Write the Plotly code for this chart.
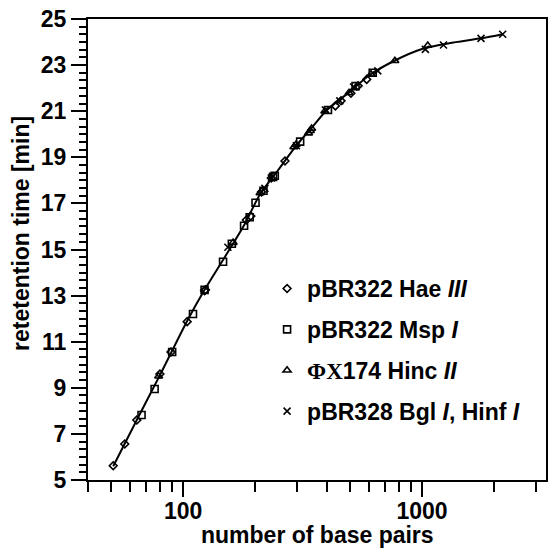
import plotly.graph_objects as go

# Fragment sizes (bp) and retention times (min) for each digest
hae_bp = [51, 57, 64, 80, 89, 104, 123, 124, 184, 192, 213, 234, 267, 434, 458, 504, 540, 587]
hae_t = [5.62, 6.56, 7.6, 9.6, 10.55, 11.87, 13.21, 13.25, 16.28, 16.45, 17.5, 18.1, 18.84,
         21.23, 21.45, 21.78, 22.1, 22.38]

msp_bp = [67, 76, 90, 110, 123, 147, 160, 180, 190, 201, 217, 238, 242, 309, 404, 527, 622]
msp_t = [7.82, 8.95, 10.55, 12.2, 13.25, 14.47, 15.25, 16.03, 16.4, 17.03, 17.55, 18.15, 18.2,
         19.68, 21.05, 22.09, 22.67]

phix_bp = [79, 162, 210, 291, 297, 335, 341, 345, 392, 495, 612, 770, 1057]
phix_t = [9.5, 15.3, 17.45, 19.45, 19.55, 20.05, 20.15, 20.25, 21.0, 21.8, 22.6, 23.19, 23.85]

bgl_bp = [154, 220, 234, 298, 394, 453, 517, 653, 1033, 1230, 1766, 2176]
bgl_t = [15.1, 17.65, 18.1, 19.5, 21.05, 21.45, 22.05, 22.75, 23.68, 23.87, 24.16, 24.34]

# Calibration curve through the data
curve_bp = [51, 64, 80, 104, 123, 150, 180, 210, 250, 300, 350, 400, 500, 600, 770, 1000,
            1300, 1766, 2176]
curve_t = [5.6, 7.6, 9.55, 11.9, 13.25, 14.7, 16.05, 17.4, 18.45, 19.55, 20.35, 21.05, 21.85,
           22.55, 23.2, 23.7, 23.95, 24.16, 24.34]

names = ["pBR322 Hae <i>III</i>",
         "pBR322 Msp <i>I</i>",
         "<span style='font-family:\"Liberation Serif\"'>ΦX</span>174 Hinc <i>II</i>",
         "pBR328 Bgl <i>I</i>, Hinf <i>I</i>"]

x_major = [100, 1000]
x_minor = [40, 50, 60, 70, 80, 90, 200, 300, 400, 500, 600, 700, 800, 900, 2000, 3000]
y_major = [5, 7, 9, 11, 13, 15, 17, 19, 21, 23, 25]

FONT = "Liberation Sans, Arial, sans-serif"

fig = go.Figure()
fig.add_trace(go.Scatter(x=curve_bp, y=curve_t, mode="lines", line=dict(color="black", width=2,
                         shape="spline", smoothing=0.8), showlegend=False, hoverinfo="skip"))

series = [
    (hae_bp, hae_t, "diamond-open", 6),
    (msp_bp, msp_t, "square-open", 7),
    (phix_bp, phix_t, "triangle-up-open", 7),
    (bgl_bp, bgl_t, "x-thin-open", 7),
]
for i, (bx, ty, sym, sz) in enumerate(series):
    fig.add_trace(go.Scatter(
        x=bx, y=ty, mode="markers", name=names[i], legendgroup=f"g{i}",
        marker=dict(symbol=sym, size=sz, color="black", line=dict(color="black", width=1.6)),
    ))

fig.update_layout(
    width=550, height=550,
    margin=dict(l=88, r=2, t=19, b=70),
    plot_bgcolor="white", paper_bgcolor="white",
    font=dict(family=FONT, size=23, color="black", weight="bold"),
    showlegend=True,
    legend=dict(x=0.391, y=0.462, xanchor="left", yanchor="top", bgcolor="rgba(0,0,0,0)",
                font=dict(size=23, family=FONT, weight="bold"), tracegroupgap=8,
                itemsizing="trace"),
    annotations=[
        dict(text="number of base pairs", xref="paper", yref="paper", x=0.5, y=-0.12,
             xanchor="center", yanchor="middle", showarrow=False,
             font=dict(size=23, family=FONT, weight="bold")),
        dict(text="retetention time [min]", xref="paper", yref="paper", x=-0.145, y=0.535,
             xanchor="center", yanchor="middle", showarrow=False, textangle=-90,
             font=dict(size=23, family=FONT, weight="bold")),
    ],
)

fig.update_xaxes(
    type="log", range=[1.602, 3.519],
    tickmode="array", tickvals=x_major, ticktext=[str(v) for v in x_major],
    ticks="outside", ticklen=15, tickwidth=2, tickcolor="black", ticklabelstandoff=-6,
    minor=dict(tickmode="array", tickvals=x_minor, ticks="outside", ticklen=10, tickwidth=2,
               tickcolor="black", showgrid=False),
    showline=True, linewidth=2, linecolor="black", mirror=True,
    showgrid=False, zeroline=False,
)
fig.update_yaxes(
    range=[5, 25],
    tickmode="array", tickvals=y_major,
    ticks="outside", ticklen=15, tickwidth=2, tickcolor="black",
    minor=dict(tick0=5, dtick=1 / 3, ticks="outside", ticklen=7, tickwidth=2, tickcolor="black",
               showgrid=False),
    showline=True, linewidth=2, linecolor="black", mirror=True,
    showgrid=False, zeroline=False,
)

fig.write_html("out.html")
